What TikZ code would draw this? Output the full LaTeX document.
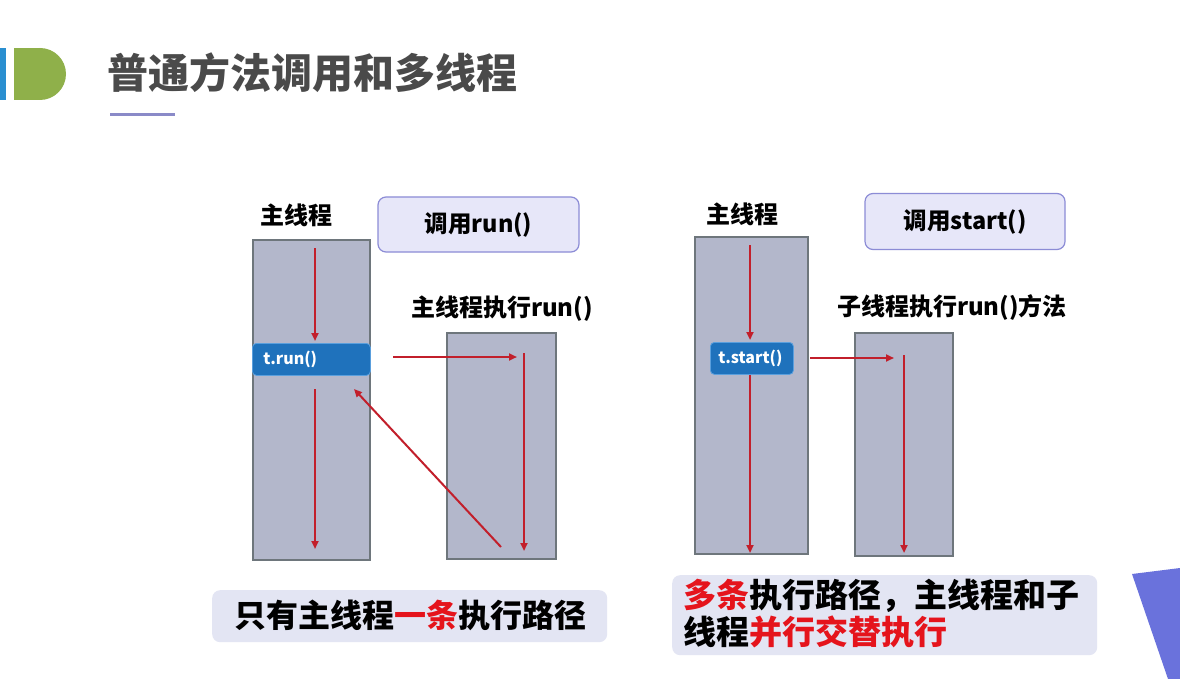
\documentclass[tikz,border=0pt]{standalone}
\usepackage{fontspec}
\setmainfont{Noto Sans CJK SC}
\usetikzlibrary{arrows.meta}
\definecolor{colfill}{HTML}{B3B7CB}
\definecolor{colborder}{HTML}{6E767C}
\definecolor{callfill}{HTML}{E7E7F9}
\definecolor{callborder}{HTML}{8C8CD6}
\definecolor{capfill}{HTML}{E3E5F3}
\definecolor{bluefill}{HTML}{1F72BC}
\definecolor{blueborder}{HTML}{5A9FDD}
\definecolor{arrred}{HTML}{C21F2B}
\definecolor{capred}{HTML}{E5141C}
\definecolor{titlegray}{HTML}{4A4A4A}
\definecolor{logoblue}{HTML}{2A8FD0}
\definecolor{logogreen}{HTML}{8FB04A}
\definecolor{ulinecol}{HTML}{8A8AC8}
\definecolor{tricol}{HTML}{6A72DC}
\tikzset{
  col/.style={draw=colborder, line width=1.8pt, fill=colfill, anchor=north west, inner sep=0pt, outer sep=0pt},
  callbox/.style={draw=callborder, line width=1.2pt, fill=callfill, rounded corners=8pt, inner sep=0pt, font=\bfseries\fontsize{23.5}{27}\selectfont},
  lbl/.style={inner sep=0pt, font=\bfseries\fontsize{24}{28}\selectfont, text=black},
  bluebox/.style={draw=blueborder, line width=0.8pt, fill=bluefill, rounded corners=4pt, anchor=north west, inner ysep=0pt, align=left, text=white, font=\bfseries\fontsize{16}{18}\selectfont},
  capbox/.style={fill=capfill, rounded corners=8pt, anchor=north west, inner sep=0pt},
  redarrow/.style={draw=arrred, line width=2pt, -{Triangle[length=8pt,width=7pt]}},
}
\begin{document}
\begin{tikzpicture}[x=1pt,y=-1pt]
\useasboundingbox (0,0) rectangle (1180,679);
\fill[white] (0,0) rectangle (1180,679);
% logo
\fill[logoblue] (0,48) rectangle (6,100);
\fill[logogreen] (14,48) rectangle (40,100);
\fill[logogreen] (40,74) circle (26pt);
% title
\node[anchor=west, inner sep=0pt, text=titlegray, font=\bfseries\fontsize{41}{45}\selectfont] (title) at (107,73) {普通方法调用和多线程};
\coordinate (uls) at (110,115);
\coordinate (ule) at (175,115);
\draw[ulinecol, line width=3pt] (uls) -- (ule);

% ===== left diagram =====
\node[lbl] (m1) at (296,215) {主线程};
\node[callbox, minimum width=201pt, minimum height=55pt] (c1) at (478.5,224.5) {调用run()};
\node[col, minimum width=117pt, minimum height=320pt] (L1) at (253,240) {};
\node[col, minimum width=109pt, minimum height=226pt] (R1) at (447,333) {};
\node[lbl] (s1) at (502,309) {主线程执行run()};
\node[bluebox, minimum width=118pt, minimum height=32pt, text width=96pt, inner xsep=11pt] (tr) at (252,343) {t.run()};
\coordinate (a1s) at (315,248);
\coordinate (a1e) at (315,341);
\coordinate (a2s) at (315,389);
\coordinate (a2e) at (315,549);
\coordinate (h1s) at (393,357);
\coordinate (h1e) at (517,357);
\coordinate (v1s) at (524,353);
\coordinate (v1e) at (524,551);
\coordinate (d1s) at (501,547);
\coordinate (d1e) at (354,389);
\draw[redarrow] (a1s) -- (a1e);
\draw[redarrow] (a2s) -- (a2e);
\draw[redarrow] (h1s) -- (h1e);
\draw[redarrow] (v1s) -- (v1e);
\draw[redarrow] (d1s) -- (d1e);
\node[capbox, minimum width=395pt, minimum height=52pt] (cap1) at (212,590) {};
\node[inner sep=0pt, font=\bfseries\fontsize{32}{36}\selectfont] (cap1t) at (410,615) {只有主线程\textcolor{capred}{一条}执行路径};

% ===== right diagram =====
\node[lbl] (m2) at (742,214) {主线程};
\node[callbox, minimum width=200pt, minimum height=56pt] (c2) at (965,221.5) {调用start()};
\node[col, minimum width=113pt, minimum height=317pt] (L2) at (695,237) {};
\node[col, minimum width=98pt, minimum height=223pt] (R2) at (855,333) {};
\node[lbl] (s2) at (952,307) {子线程执行run()方法};
\node[bluebox, minimum width=83pt, minimum height=32pt, text width=67pt, inner xsep=8pt] (ts) at (710,342) {t.start()};
\coordinate (b1s) at (750,245);
\coordinate (b1e) at (750,340);
\coordinate (b2e) at (750,553);
\coordinate (h2s) at (810,358);
\coordinate (h2e) at (894,358);
\coordinate (v2s) at (904,355);
\coordinate (v2e) at (904,553);
\draw[redarrow] (b1s) -- (b1e);
\draw[redarrow] (ts.south -| b1s) -- (b2e);
\draw[redarrow] (h2s) -- (h2e);
\draw[redarrow] (v2s) -- (v2e);
\node[capbox, minimum width=425pt, minimum height=80pt] (cap2) at (672,575) {};
\node[anchor=north west, inner sep=0pt, align=left, font=\bfseries\fontsize{33}{37}\selectfont] (cap2t) at (683,579) {\textcolor{capred}{多条}执行路径，主线程和子\\线程\textcolor{capred}{并行交替执行}};

% corner triangle
\fill[tricol] (1132,574) -- (1180,568) -- (1180,679) -- (1168,679) -- cycle;
\end{tikzpicture}
\end{document}
